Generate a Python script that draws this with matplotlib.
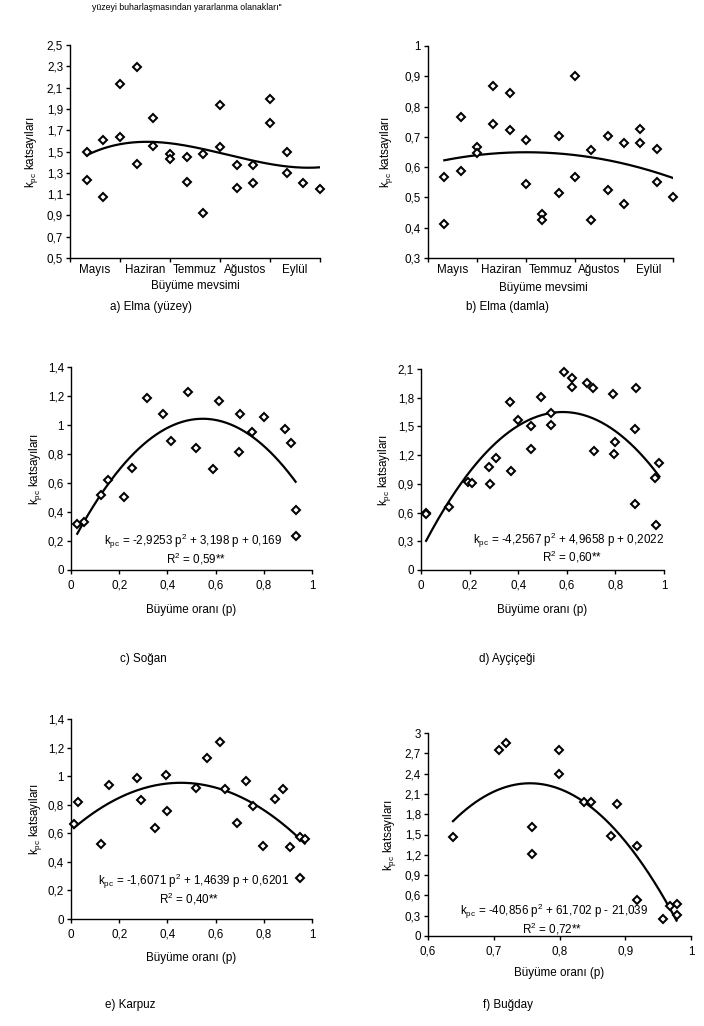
import numpy as np
import matplotlib
matplotlib.use("Agg")
import matplotlib.pyplot as plt
from matplotlib.ticker import FuncFormatter, FixedLocator

plt.rcParams['font.family'] = ['Liberation Sans', 'DejaVu Sans']
plt.rcParams['mathtext.fontset'] = 'custom'
plt.rcParams['mathtext.rm'] = 'Liberation Sans'
plt.rcParams['mathtext.it'] = 'Liberation Sans:italic'
plt.rcParams['mathtext.bf'] = 'Liberation Sans:bold'

FS = 8.4

# ---------------- data ----------------
months = ["Mayıs", "Haziran", "Temmuz", "Ağustos", "Eylül"]

# a) Elma (yüzey): sample index (3 per month) and k_pc
a_idx = [1, 1, 2, 2, 3, 3, 4, 4, 5, 5, 6, 6, 7, 7, 8, 8, 9, 9, 10, 10, 11, 11, 12, 12, 13, 13, 14, 15]
a_val = [1.50, 1.23, 1.61, 1.07, 2.13, 1.64, 2.29, 1.38, 1.81, 1.55, 1.48, 1.43, 1.45, 1.21,
         1.48, 0.92, 1.94, 1.54, 1.37, 1.16, 1.37, 1.20, 1.99, 1.77, 1.50, 1.30, 1.20, 1.15]

# b) Elma (damla)
b_idx = [1, 1, 2, 2, 3, 3, 4, 4, 5, 5, 6, 6, 7, 7, 8, 8, 9, 9, 10, 10, 11, 11, 12, 12, 13, 13, 14, 14, 15]
b_val = [0.567, 0.413, 0.765, 0.588, 0.665, 0.648, 0.869, 0.741, 0.846, 0.723, 0.689, 0.544,
         0.446, 0.426, 0.702, 0.515, 0.901, 0.566, 0.655, 0.426, 0.703, 0.523, 0.679, 0.479,
         0.727, 0.679, 0.660, 0.552, 0.500]

# c) Soğan
c_p = [0.026, 0.054, 0.124, 0.155, 0.22, 0.253, 0.314, 0.383, 0.413, 0.486, 0.518, 0.59,
       0.613, 0.696, 0.703, 0.751, 0.801, 0.89, 0.914, 0.932, 0.932]
c_k = [0.32, 0.333, 0.514, 0.62, 0.505, 0.705, 1.187, 1.074, 0.893, 1.23, 0.84, 0.70,
       1.164, 0.812, 1.074, 0.95, 1.053, 0.969, 0.874, 0.415, 0.236]
c_coef = [-2.9253, 3.198, 0.169]

# d) Ayçiçeği
d_p = [0.021, 0.021, 0.115, 0.195, 0.208, 0.279, 0.286, 0.307, 0.367, 0.37, 0.40, 0.452, 0.452,
       0.493, 0.537, 0.537, 0.589, 0.622, 0.622, 0.685, 0.708, 0.712, 0.79, 0.799, 0.795,
       0.885, 0.882, 0.879, 0.963, 0.966, 0.981]
d_k = [0.592, 0.585, 0.662, 0.923, 0.906, 1.08, 0.899, 1.174, 1.752, 1.031, 1.567, 1.501, 1.261,
       1.804, 1.64, 1.519, 2.065, 2.01, 1.909, 1.95, 1.905, 1.247, 1.836, 1.334, 1.209,
       1.898, 1.477, 0.686, 0.958, 0.467, 1.115]
d_coef = [-4.2567, 4.9658, 0.2022]

# e) Karpuz
e_p = [0.012, 0.028, 0.124, 0.157, 0.275, 0.289, 0.348, 0.396, 0.399, 0.518, 0.566, 0.617,
       0.638, 0.688, 0.727, 0.756, 0.798, 0.848, 0.878, 0.907, 0.95, 0.97, 0.95]
e_k = [0.666, 0.82, 0.526, 0.936, 0.988, 0.83, 0.636, 1.006, 0.757, 0.915, 1.125, 1.242,
       0.913, 0.671, 0.964, 0.794, 0.508, 0.843, 0.913, 0.505, 0.573, 0.559, 0.284]
e_coef = [-1.6071, 1.4639, 0.6201]

# f) Buğday
f_p = [0.638, 0.708, 0.718, 0.758, 0.758, 0.799, 0.799, 0.838, 0.848, 0.888, 0.878, 0.918,
       0.918, 0.958, 0.968, 0.978, 0.978]
f_k = [1.47, 2.753, 2.852, 1.609, 1.214, 2.743, 2.398, 1.973, 1.983, 1.954, 1.475, 1.332,
       0.533, 0.257, 0.449, 0.469, 0.306]
f_coef = [-40.856, 61.702, -21.039]

# ---------------- helpers ----------------
W, H = 704, 1026
fig = plt.figure(figsize=(W / 100, H / 100), dpi=100)
fig.patch.set_facecolor('white')


def px_axes(x0, y0, x1, y1):
    return fig.add_axes([x0 / W, 1 - y1 / H, (x1 - x0) / W, (y1 - y0) / H])


def num(v, pos=None):
    s = f"{v:.4f}".rstrip('0').rstrip('.')
    if s == "-0":
        s = "0"
    return s.replace('.', ',')


def style(ax):
    for s in ('top', 'right'):
        ax.spines[s].set_visible(False)
    for s in ('left', 'bottom'):
        ax.spines[s].set_linewidth(1.0)
    ax.tick_params(axis='both', which='major', direction='out', length=3, width=1,
                   labelsize=FS, colors='black')
    ax.tick_params(axis='y', pad=2)
    ax.tick_params(axis='x', pad=4)
    ax.yaxis.set_major_formatter(FuncFormatter(num))
    ax.xaxis.set_major_formatter(FuncFormatter(num))


def scatter(ax, x, y):
    ax.plot(x, y, linestyle='none', marker='D', markersize=3.9, markerfacecolor='white',
            markeredgecolor='black', markeredgewidth=1.45, zorder=3, clip_on=False)


YLAB = r"k$_{\mathrm{pc}}$ katsayıları"


def month_axis(ax):
    ax.set_xlim(0, 5)
    ax.xaxis.set_major_locator(FixedLocator(np.arange(0, 6)))
    ax.xaxis.set_major_formatter(FuncFormatter(lambda v, p: ""))
    ax.xaxis.set_minor_locator(FixedLocator(np.arange(5) + 0.5))
    ax.set_xticklabels(months, minor=True)
    ax.tick_params(axis='x', which='minor', length=0, pad=4, labelsize=FS)


# ---------------- a) ----------------
ax = px_axes(70, 45, 320, 258)
style(ax)
month_axis(ax)
ax.set_ylim(0.5, 2.5)
ax.set_yticks(np.arange(0.5, 2.51, 0.2))
xa = np.array(a_idx) / 3.0
scatter(ax, xa, a_val)
ca = np.polyfit(xa, a_val, 3)
xx = np.linspace(xa.min(), xa.max(), 200)
ax.plot(xx, np.polyval(ca, xx), color='black', lw=1.6, zorder=2)
ax.set_ylabel(YLAB, fontsize=FS)
ax.yaxis.set_label_coords(-0.12, 0.5)
ax.set_xlabel("Büyüme mevsimi", fontsize=FS)
ax.xaxis.set_label_coords(0.5, -22 / 213)

# ---------------- b) ----------------
ax = px_axes(428, 46, 673, 258)
style(ax)
month_axis(ax)
ax.set_ylim(0.3, 1.0)
ax.set_yticks(np.arange(0.3, 1.001, 0.1))
xb = np.array(b_idx) / 3.0
scatter(ax, xb, b_val)
cb = np.polyfit(xb, b_val, 2)
xx = np.linspace(xb.min(), xb.max(), 200)
ax.plot(xx, np.polyval(cb, xx), color='black', lw=1.6, zorder=2)
ax.set_ylabel(YLAB, fontsize=FS)
ax.yaxis.set_label_coords(-0.135, 0.5)
ax.set_xlabel("Büyüme mevsimi", fontsize=FS)
ax.xaxis.set_label_coords(0.47, -24 / 212)


def growth_panel(rect, p, k, coef, xlim, xstep, ylim, ystep, eq, r2, eqpos, r2pos, ylx, xly):
    ax = px_axes(*rect)
    style(ax)
    ax.set_xlim(*xlim)
    ax.set_ylim(*ylim)
    ax.set_xticks(np.arange(xlim[0], xlim[1] + 1e-9, xstep))
    ax.set_yticks(np.arange(ylim[0], ylim[1] + 1e-9, ystep))
    scatter(ax, p, k)
    xx = np.linspace(min(p), max(p), 200)
    ax.plot(xx, np.polyval(coef, xx), color='black', lw=1.6, zorder=2)
    ax.text(eqpos[0], eqpos[1], eq, transform=ax.transAxes, ha='center', va='center', fontsize=FS)
    ax.text(r2pos[0], r2pos[1], r2, transform=ax.transAxes, ha='center', va='center', fontsize=FS)
    ax.set_ylabel(YLAB, fontsize=FS)
    ax.yaxis.set_label_coords(ylx, 0.5)
    ax.set_xlabel("Büyüme oranı (p)", fontsize=FS)
    ax.xaxis.set_label_coords(0.5, xly)
    return ax


growth_panel((71, 367, 312, 570), c_p, c_k, c_coef, (0, 1), 0.2, (0, 1.4), 0.2,
             r"k$_{\mathrm{pc}}$ = -2,9253 p$^{2}$ + 3,198 p + 0,169", r"R$^{2}$ = 0,59**",
             (0.506, 0.139), (0.519, 0.053), -0.112, -34 / 203)

growth_panel((421, 369, 664, 570), d_p, d_k, d_coef, (0, 1), 0.2, (0, 2.1), 0.3,
             r"k$_{\mathrm{pc}}$ = -4,2567 p$^{2}$ + 4,9658 p + 0,2022", r"R$^{2}$ = 0,60**",
             (0.609, 0.149), (0.621, 0.066), -0.115, -34 / 201)

growth_panel((71, 719, 312, 919), e_p, e_k, e_coef, (0, 1), 0.2, (0, 1.4), 0.2,
             r"k$_{\mathrm{pc}}$ = -1,6071 p$^{2}$ + 1,4639 p + 0,6201", r"R$^{2}$ = 0,40**",
             (0.51, 0.187), (0.49, 0.10), -0.114, -33 / 200)

growth_panel((428, 733, 691, 936), f_p, f_k, f_coef, (0.6, 1.0), 0.1, (0, 3.0), 0.3,
             r"k$_{\mathrm{pc}}$ = -40,856 p$^{2}$ + 61,702 p - 21,039", r"R$^{2}$ = 0,72**",
             (0.479, 0.123), (0.471, 0.033), -0.114, -31 / 203)


# ---------------- captions ----------------
def ftext(x, y, s, **kw):
    kw.setdefault('fontsize', FS)
    fig.text(x / W, 1 - y / H, s, va='center', **kw)


ftext(92, 7, "yüzeyi buharlaşmasından yararlanma olanakları\"", ha='left', fontsize=6.3)
ftext(151, 307, "a) Elma (yüzey)", ha='center')
ftext(507, 307, "b) Elma (damla)", ha='center')
ftext(143, 659, "c) Soğan", ha='center')
ftext(507, 659, "d) Ayçiçeği", ha='center')
ftext(130, 1005, "e) Karpuz", ha='center')
ftext(508, 1005, "f) Buğday", ha='center')

fig.savefig("out.png", dpi=100, facecolor='white')
